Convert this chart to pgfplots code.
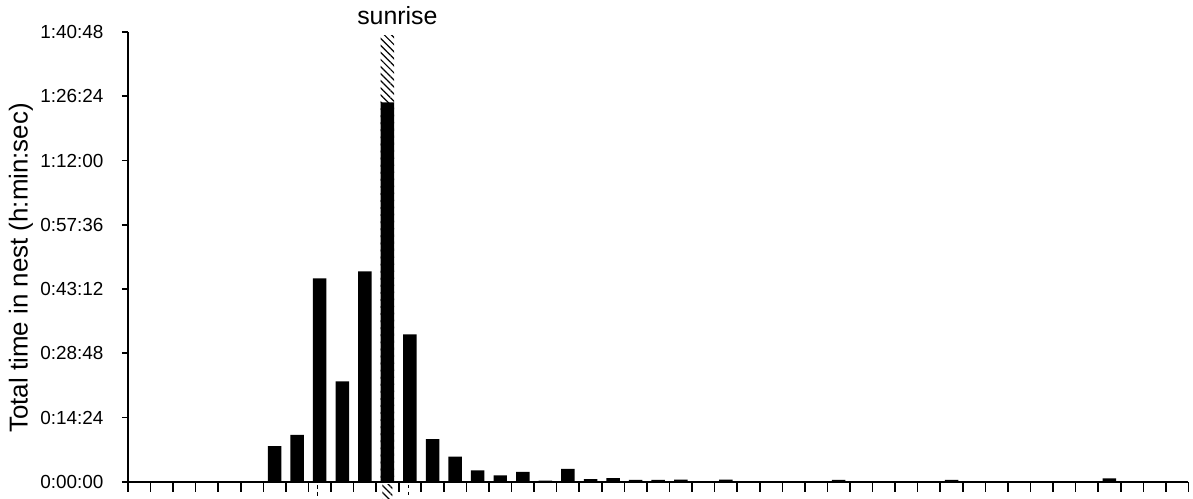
\documentclass[border=0pt]{standalone}
\usepackage{pgfplots}
\pgfplotsset{compat=1.18}
\usepackage{fontspec}
\setmainfont{Liberation Sans}
\usetikzlibrary{patterns,patterns.meta}
\begin{document}
\begin{tikzpicture}
\begin{axis}[
  at={(0,0)}, anchor=south west,
  width=1061bp, height=450bp, scale only axis,
  xmin=-0.5, xmax=46.5, ymin=0, ymax=6048,
  axis x line*=bottom, axis y line*=left,
  axis line style={line width=1.6bp, -},
  xtick={-0.5,0.5,...,46.5}, xticklabels={},
  ytick={0,864,1728,2592,3456,4320,5184,6048},
  yticklabels={0:00:00,0:14:24,0:28:48,0:43:12,0:57:36,1:12:00,1:26:24,1:40:48},
  tick align=outside,
  major tick length=8bp,
  x tick style={/pgfplots/major tick length=10bp},
  y tick style={/pgfplots/major tick length=6bp},
  tick style={line width=1.6bp, black},
  yticklabel style={font=\fontsize{19}{21}\selectfont, xshift=-13bp},
  ybar, bar width=13.5bp, bar shift=0pt,
  clip=false,
]
% sunrise marker (hatched)
\addplot[pattern={Lines[angle=-45,distance=5bp,line width=1.2bp]}, draw=none] coordinates {(11,6000)};
% total time in nest (seconds)
\addplot[fill=black, draw=none] coordinates {
(0,0) (1,0) (2,0) (3,0) (4,0) (5,0)
(6,478) (7,632) (8,2735) (9,1351) (10,2829) (11,5100) (12,1982) (13,575)
(14,340) (15,152) (16,85) (17,134) (18,15) (19,175) (20,35) (21,50)
(22,25) (23,27) (24,30) (25,8) (26,30) (27,0) (28,8) (29,8) (30,8)
(31,25) (32,8) (33,8) (34,8) (35,8) (36,25) (37,8) (38,0) (39,0)
(40,0) (41,0) (42,0) (43,45) (44,0) (45,0) (46,0)
};
\node[font=\fontsize{25}{28}\selectfont, anchor=base] at ([xshift=10bp, yshift=7bp]axis cs:11,6048) {sunrise};
\fill[pattern={Lines[angle=-45,distance=5bp,line width=1.2bp]}] ([xshift=-5bp,yshift=-3bp]axis cs:11,0) rectangle ([xshift=5bp,yshift=-17bp]axis cs:11,0);
\draw[line width=1bp, dash pattern=on 4bp off 3bp] ([yshift=-3bp]axis cs:7.9,0) -- ([yshift=-17bp]axis cs:7.9,0);
\draw[line width=1bp, dash pattern=on 3bp off 4bp] ([yshift=-3bp]axis cs:11.95,0) -- ([yshift=-17bp]axis cs:11.95,0);
\end{axis}
\node[rotate=90, font=\fontsize{26}{30}\selectfont] at (-107bp,214bp) {Total time in nest (h:min:sec)};
\pgfresetboundingbox
\path (-128bp,-17bp) rectangle (1065.5bp,482bp);
\end{tikzpicture}
\end{document}
